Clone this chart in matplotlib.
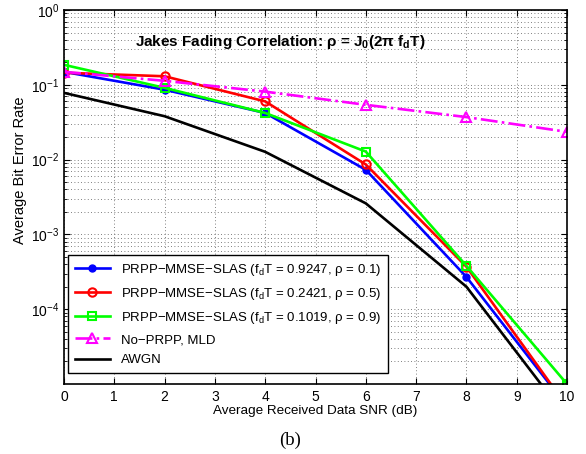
import matplotlib
matplotlib.use("Agg")
import matplotlib.pyplot as plt
from matplotlib.ticker import LogLocator, NullFormatter

plt.rcParams["font.family"] = ["Liberation Sans", "DejaVu Sans"]
plt.rcParams["mathtext.fontset"] = "custom"
plt.rcParams["mathtext.rm"] = "Liberation Sans"
plt.rcParams["mathtext.it"] = "Liberation Sans:italic"
plt.rcParams["mathtext.bf"] = "Liberation Sans:bold"
plt.rcParams["mathtext.default"] = "regular"

snr_db = [0, 2, 4, 6, 8, 10]
ber_rho01 = [0.149, 0.086, 0.042, 0.0073, 0.00027, 0.000005]
ber_rho05 = [0.145, 0.130, 0.060, 0.0086, 0.00037, 0.000005]
ber_rho09 = [0.185, 0.091, 0.042, 0.0128, 0.00038, 0.00001]
ber_noprpp = [0.149, 0.113, 0.081, 0.054, 0.037, 0.0235]
ber_awgn = [0.078, 0.038, 0.0127, 0.0026, 0.0002, 0.0000035]

labels = [
    "PRPP\u2212MMSE\u2212SLAS (f$_d$T = 0.9247, \u03c1 = 0.1)",
    "PRPP\u2212MMSE\u2212SLAS (f$_d$T = 0.2421, \u03c1 = 0.5)",
    "PRPP\u2212MMSE\u2212SLAS (f$_d$T = 0.1019, \u03c1 = 0.9)",
    "No\u2212PRPP, MLD",
    "AWGN",
]

fig = plt.figure(figsize=(5.86, 4.54), dpi=100)
ax = fig.add_axes([64 / 586, 1 - 384 / 454, 503 / 586, 374 / 454])

lw = 1.9
ax.semilogy(snr_db, ber_rho01, "-o", color="#0000ff", lw=lw, ms=5,
            mfc="#0000ff", label=labels[0])
ax.semilogy(snr_db, ber_rho05, "-o", color="#ff0000", lw=lw, ms=6,
            mfc="none", mew=1.5, label=labels[1])
ax.semilogy(snr_db, ber_rho09, "-s", color="#00ff00", lw=lw, ms=5.5,
            mfc="none", mew=1.5, label=labels[2])
ax.semilogy(snr_db, ber_noprpp, "-.^", color="#ff00ff", lw=lw, ms=7,
            mfc="none", mew=1.5, label=labels[3])
ax.semilogy(snr_db, ber_awgn, "-", color="black", lw=lw, label=labels[4])

ax.set_xlim(0, 10)
ax.set_xticks(range(0, 11))
ax.yaxis.set_minor_locator(LogLocator(base=10, subs=range(2, 10), numticks=20))
ax.yaxis.set_minor_formatter(NullFormatter())
ax.set_yticks([1e0, 1e-1, 1e-2, 1e-3, 1e-4])
ax.set_yticklabels(["$10^{0}$", "$10^{-1}$", "$10^{-2}$", "$10^{-3}$", "$10^{-4}$"])
ax.set_ylim(1e-5, 1)

ax.tick_params(which="both", direction="in", top=True, right=True, labelsize=10)
ax.tick_params(axis="x", pad=4)
ax.tick_params(which="major", length=4)
ax.tick_params(which="minor", length=2)
grid_style = dict(linestyle=(0, (1, 3)), color="#555555", lw=0.6)
ax.grid(which="major", axis="both", **grid_style)
ax.grid(which="minor", axis="y", **grid_style)
for s in ax.spines.values():
    s.set_linewidth(1.2)

ax.set_xlabel("Average Received Data SNR (dB)", fontsize=9.7, labelpad=1)
ax.set_ylabel("Average Bit Error Rate", fontsize=10.5)
ax.yaxis.set_label_coords(-0.074, 0.571)

ax.text(0.43, 0.915, "Jakes Fading Correlation: \u03c1 = J$_\\mathbf{0}$(2\u03c0 f$_\\mathbf{d}$T)",
        transform=ax.transAxes, ha="center", va="center",
        fontsize=11, fontweight="bold")

leg = ax.legend(loc="lower left", bbox_to_anchor=(0.008, 0.03), borderaxespad=0,
                fontsize=9.5, fancybox=False, framealpha=1, edgecolor="black",
                handlelength=2.7, labelspacing=0.6, borderpad=0.5)
leg.get_frame().set_linewidth(1.0)

fig.text(0.495, 1 - 440 / 454, "(b)", ha="center", va="center",
         fontsize=13.5, family="Liberation Serif")

fig.savefig("out.png", dpi=100)
